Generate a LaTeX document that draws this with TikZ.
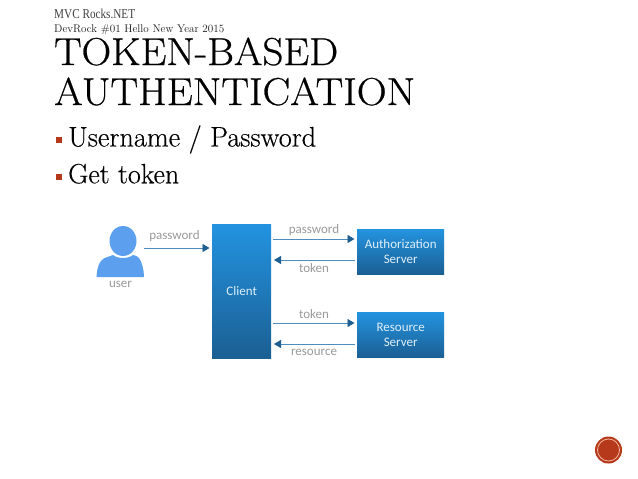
\documentclass[tikz,border=0pt]{standalone}
\usepackage{fontspec}
\newfontfamily\diagfont{Carlito}
\newfontfamily\slabfont{Liberation Serif}
\newfontfamily\titlefont[FakeBold=0.6]{Latin Modern Roman}
\newfontfamily\bodyfont[FakeBold=0.3]{Latin Modern Roman}
\definecolor{boxtop}{HTML}{2393E0}
\definecolor{boxbot}{HTML}{1B5F93}
\definecolor{arrowc}{HTML}{4A8DBE}
\definecolor{headc}{HTML}{1F5F8F}
\definecolor{labelc}{HTML}{9A9A9A}
\definecolor{userc}{HTML}{5B9FEE}
\definecolor{accent}{HTML}{B5391A}
\definecolor{ringc}{HTML}{F3B49C}
\usetikzlibrary{arrows.meta}
\tikzset{
  bluebox/.style={draw=none,top color=boxtop,bottom color=boxbot,text=white!85!boxtop,align=center,inner sep=0pt,anchor=north west,font=\diagfont\fontsize{13}{15.5}\selectfont},
  conn/.style={draw=arrowc,line width=0.9pt,shorten >=2.5pt,-{Triangle[length=7pt,width=8pt,color=headc]}},
  lab/.style={text=labelc,inner sep=0pt,font=\diagfont\fontsize{13}{15}\selectfont},
  txt/.style={anchor=base west,inner sep=0pt,text=black},
  bull/.style={fill=accent,draw=none,inner sep=0pt,minimum size=6pt}
}
\begin{document}
\begin{tikzpicture}[x=1pt,y=-1pt]
\useasboundingbox (0,0) rectangle (638,479);
\fill[white] (0,0) rectangle (638,479);
% header texts
\node[txt,text=black!75] (hdr) at (54,19) {\scalebox{0.83}[1]{\slabfont\fontsize{13.5}{14}\selectfont MVC Rocks.NET}};
\node[txt,text=black!90] (sub) at (54,32.5) {\resizebox{170pt}{!}{\fontsize{11}{12}\selectfont DevRock \#01 Hello New Year 2015}};
\node[txt] (t1) at (54,65) {\resizebox{284pt}{27.5pt}{\titlefont\fontsize{30}{30}\selectfont TOKEN-BASED}};
\node[txt] (t2) at (54,105) {\resizebox{361pt}{27.5pt}{\titlefont\fontsize{30}{30}\selectfont AUTHENTICATION}};
% bullets
\node[bull] (b1) at (59,140) {};
\node[bull] (b2) at (59,176.5) {};
\node[txt] (l1) at (68,146.5) {\resizebox{248pt}{!}{\bodyfont\fontsize{24}{28}\selectfont Username / Password}};
\node[txt] (l2) at (68,183.3) {\resizebox{111pt}{!}{\bodyfont\fontsize{24}{28}\selectfont Get token}};
% boxes
\node[bluebox,minimum width=59pt,minimum height=134pt] (client) at (212,224) {Client};
\node[bluebox,minimum width=87pt,minimum height=45pt] (auth) at (357,229) {Authorization\\[-1pt]Server};
\node[bluebox,minimum width=87pt,minimum height=45.5pt] (res) at (357,312) {Resource\\[-1pt]Server};
% user icon
\fill[userc] (123,241) ellipse (13.5 and 15);
\fill[userc] (96.5,277) .. controls (97,268) and (99,260) .. (106,257.5) .. controls (110,256) and (112,255.5) .. (113,255) .. controls (118,259) and (128,259) .. (133,255) .. controls (135,255.5) and (138,256) .. (139,258) .. controls (142,262) and (144,270) .. (144,277) -- cycle;
\node[lab] (user) at (120.5,284.5) {user};
\coordinate (us) at (144,248);
% connectors
\draw[conn] (us) -- (us -| client.west);
\coordinate (a1) at (273,239);
\coordinate (a2) at (271.5,260);
\coordinate (a3) at (273,323);
\coordinate (a4) at (271.5,344);
\draw[conn] (a1) -- (a1 -| auth.west);
\draw[conn,shorten <=2pt] (a2 -| auth.west) -- (a2);
\draw[conn] (a3) -- (a3 -| res.west);
\draw[conn,shorten <=2pt] (a4 -| res.west) -- (a4);
% labels
\node[lab] (lp0) at (174.5,236) {password};
\node[lab] (lp1) at (314,230) {password};
\node[lab] (lt1) at (314,268.5) {token};
\node[lab] (lt2) at (314,314) {token};
\node[lab] (lr) at (314,352.5) {resource};
% corner badge
\node[circle,fill=accent,draw=none,minimum size=27pt,inner sep=0pt] (badge) at (608.5,450) {};
\draw[ringc,line width=0.8pt] (badge.center) circle (11);
\end{tikzpicture}
\end{document}
